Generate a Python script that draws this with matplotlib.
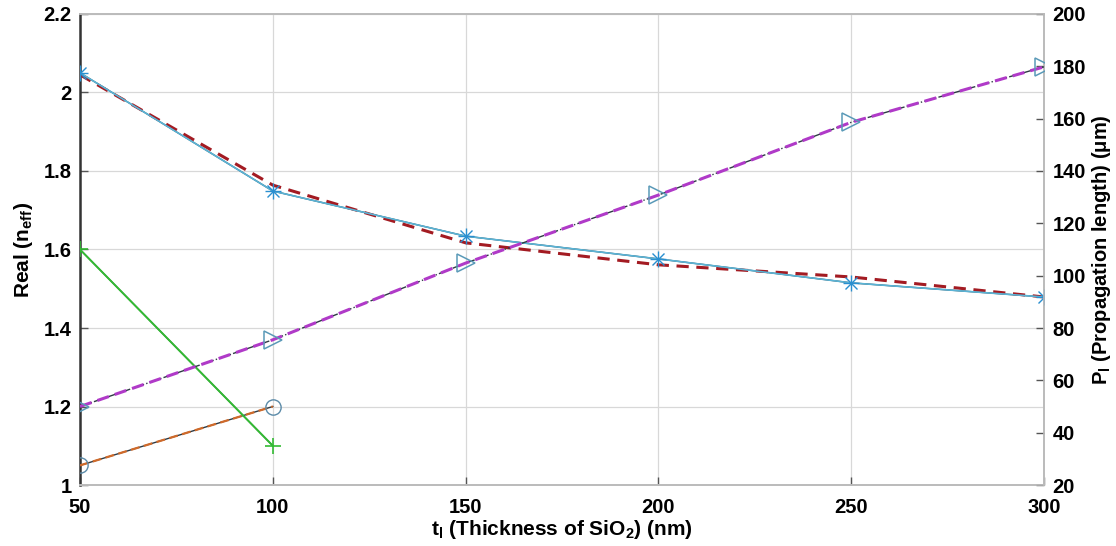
import matplotlib
matplotlib.use("Agg")
import matplotlib.pyplot as plt
import numpy as np

plt.rcParams['font.family'] = ['Liberation Sans', 'DejaVu Sans']
plt.rcParams['font.weight'] = 'bold'
plt.rcParams['mathtext.default'] = 'regular'

# thickness of SiO2 (nm)
t_nm = [50, 100, 150, 200, 250, 300]
t_short = [50, 100]

# real part of n_eff (left axis)
neff_star = [2.05, 1.749, 1.634, 1.576, 1.515, 1.479]
neff_fit = [2.045, 1.764, 1.617, 1.561, 1.530, 1.479]
neff_plus = [1.60, 1.10]
neff_circ = [1.05, 1.20]

# propagation length (um, right axis)
lp_tri = [50, 75.5, 104.8, 130.8, 158.6, 179.8]

dark = '#2e3b44'

fig = plt.figure(figsize=(11.16, 5.46), dpi=100)
ax = fig.add_axes([0.0717, 0.1117, 0.8638, 0.8627])
ax2 = ax.twinx()

# left axis series
ax.plot(t_nm, neff_star, '-', color=dark, lw=1.0, zorder=3)
ax.plot(t_nm, neff_star, '-', color='#5ab4d6', lw=1.2, zorder=4)
# matlab style asterisk: plus + cross
ax.plot(t_nm, neff_star, '+', color='#2a8fd0', ms=11, mew=1.0, zorder=5)
ax.plot(t_nm, neff_star, 'x', color='#2a8fd0', ms=8, mew=1.0, zorder=5)
ax.plot(t_nm, neff_fit, '--', color='#a31b22', lw=2.2, dashes=(4, 2.5), zorder=3)

ax.plot(t_short, neff_plus, '-', color=dark, lw=1.0, zorder=3)
ax.plot(t_short, neff_plus, '-+', color='#33bb33', lw=1.4, ms=11, mew=1.2, zorder=4)

ax.plot(t_short, neff_circ, '-', color=dark, lw=1.0, zorder=3)
ax.plot(t_short, neff_circ, '--', color='#d06a2a', lw=1.6, dashes=(4, 2), zorder=4)
ax.plot(t_short, neff_circ, 'o', mfc='none', mec='#5a8aa8', ms=11, mew=1.0, zorder=5)

# right axis series
ax2.plot(t_nm, lp_tri, '-.', color=dark, lw=1.0, zorder=3)
ax2.plot(t_nm, lp_tri, '--', color='#b03ac8', lw=2.2, dashes=(4, 2), zorder=4)
ax2.plot(t_nm, lp_tri, '>', mfc='none', mec='#5a9ab8', ms=13, mew=1.1, zorder=5)

ax.set_xlim(50, 300)
ax.set_ylim(1, 2.2)
ax.set_xticks([50, 100, 150, 200, 250, 300])
ax.set_yticks([1, 1.2, 1.4, 1.6, 1.8, 2, 2.2])
ax.set_yticklabels(['1', '1.2', '1.4', '1.6', '1.8', '2', '2.2'])
ax2.set_ylim(20, 200)
ax2.set_yticks(np.arange(20, 201, 20))

ax.grid(True, color='#d8d8d8', lw=0.9)
ax.set_axisbelow(True)

for a in (ax, ax2):
    a.tick_params(direction='in', length=6, width=1.0, labelsize=14.5, color='#555555')
    for s in a.spines.values():
        s.set_color('#bbbbbb')
        s.set_linewidth(1.2)
ax.tick_params(axis='x', pad=9)
ax.tick_params(axis='y', pad=6)
ax2.tick_params(axis='y', pad=6)
ax.spines['left'].set_color('#333333')
ax.spines['left'].set_linewidth(1.8)
ax2.spines['left'].set_visible(False)

ax.set_xlabel('t$_{l}$ (Thickness of SiO$_{2}$) (nm)', fontsize=15, fontweight='bold', labelpad=1)
ax.set_ylabel('Real (n$_{eff}$)', fontsize=15, fontweight='bold', labelpad=6)
ax2.set_ylabel('P$_{l}$ (Propagation length) ($\\mu$m)', fontsize=14.5, fontweight='bold', labelpad=3)

fig.savefig('out.png', dpi=100)
